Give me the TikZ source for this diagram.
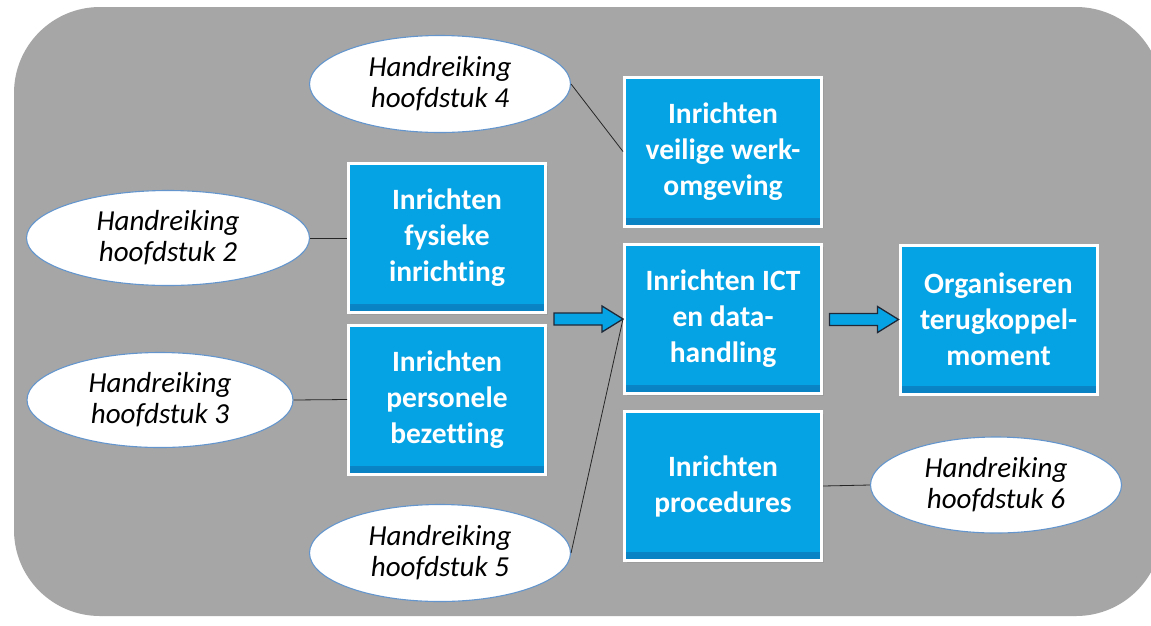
\documentclass[tikz,border=0pt]{standalone}
\usepackage{fontspec}
\setmainfont{Carlito}[Ligatures=NoCommon]
\usetikzlibrary{shapes.geometric,shadows}
\definecolor{bggray}{RGB}{166,166,166}
\definecolor{boxblue}{RGB}{6,163,228}
\definecolor{boxdark}{RGB}{10,130,195}
\definecolor{ellborder}{RGB}{100,150,205}
\definecolor{arrowline}{RGB}{30,40,55}
\tikzset{
  stepbox/.style={rectangle, draw=white, line width=3pt, fill=boxblue,
    minimum width=197pt, minimum height=149pt, inner sep=0pt,
    text=white, font=\fontsize{29.5}{36}\selectfont\bfseries, align=center,
    drop shadow={opacity=0.25, shadow xshift=2pt, shadow yshift=-2pt},
    path picture={\shade[top color=boxblue, bottom color=boxdark]
      (path picture bounding box.south west) rectangle
      ([yshift=8pt]path picture bounding box.south east);}},
  refell/.style={ellipse, draw=ellborder, line width=1.1pt, fill=white,
    inner sep=0pt, text=black, font=\fontsize{29}{31}\selectfont\itshape, align=center},
  link/.style={draw=black!85, line width=0.8pt},
  blockarrow/.style={draw=arrowline, line width=1.3pt, fill=boxblue, line join=miter}
}
\begin{document}
\begin{tikzpicture}[x=1pt,y=-1pt]
\useasboundingbox (0,0) rectangle (1151,625);
\fill[white] (0,0) rectangle (1151,625);
\fill[bggray, rounded corners=86pt] (14,7) rectangle (1162,616);

% process boxes
\node[stepbox] (fys) at (447,238) {Inrichten\\fysieke\\inrichting};
\node[stepbox] (pers) at (447,399.5) {Inrichten\\personele\\bezetting};
\node[stepbox] (veil) at (723,151.5) {Inrichten\\veilige werk-\\omgeving};
\node[stepbox] (ict) at (723,319) {Inrichten ICT\\en data-\\handling};
\node[stepbox] (proc) at (723,486) {Inrichten\\procedures};
\node[stepbox] (org) at (998.5,319.5) {Organiseren\\terugkoppel-\\moment};

% reference ellipses
\node[refell, minimum width=261pt, minimum height=97pt] (h4) at (440,84) {Handreiking\\hoofdstuk 4};
\node[refell, minimum width=283pt, minimum height=95pt] (h2) at (168,238) {Handreiking\\hoofdstuk 2};
\node[refell, minimum width=266pt, minimum height=95pt] (h3) at (160,400) {Handreiking\\hoofdstuk 3};
\node[refell, minimum width=261pt, minimum height=97pt] (h5) at (440,553) {Handreiking\\hoofdstuk 5};
\node[refell, minimum width=251pt, minimum height=96pt] (h6) at (996,485) {Handreiking\\hoofdstuk 6};

% thin links
\draw[link] (h4.east) -- (veil.west);
\draw[link] (h2.east) -- (fys.west);
\draw[link] (h3.east) -- (pers.west);
\draw[link] (h5.east) -- (ict.west);
\draw[link] (h6.west) -- (proc.east);

% block arrows
\draw[blockarrow] (ict.west) -- ++(-21,-13) -- ++(0,7) -- ++(-48,0) -- ++(0,12) -- ++(48,0) -- ++(0,7) -- cycle;
\draw[blockarrow] (org.west) -- ++(-21,-13) -- ++(0,7) -- ++(-48,0) -- ++(0,12) -- ++(48,0) -- ++(0,7) -- cycle;
\end{tikzpicture}
\end{document}
